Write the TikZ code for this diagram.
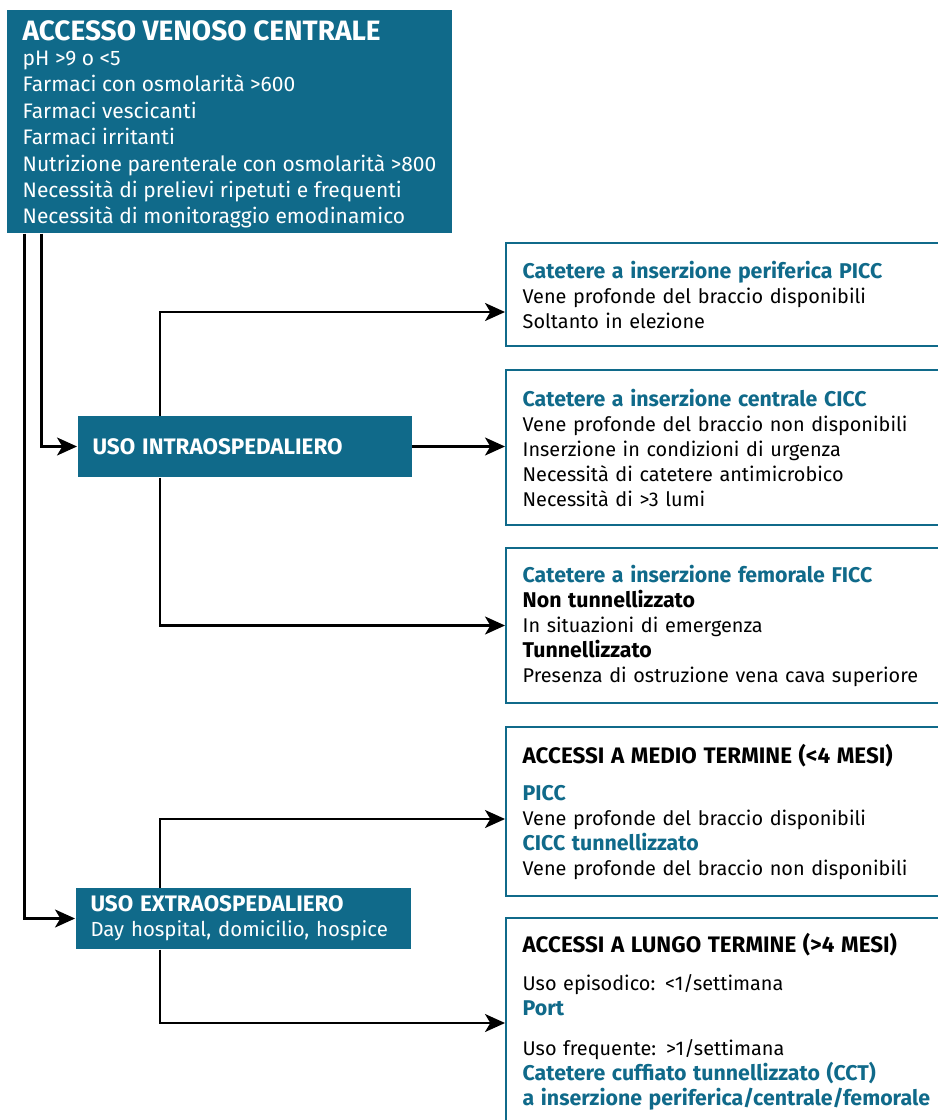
\documentclass[tikz,border=0pt]{standalone}
\usepackage{fontspec}
\setmainfont{Fira Sans}
\usetikzlibrary{arrows.meta,calc}
\definecolor{boxteal}{RGB}{16,106,138}
\tikzset{every picture/.style={line width=0.75pt}}
\newcommand{\cathead}[1]{{\color{boxteal}\fontsize{16}{18.75}\selectfont\bfseries #1}}
\newcommand{\capshead}[1]{{\fontsize{16.8}{18.75}\selectfont\bfseries #1}}

\begin{document}
\begin{tikzpicture}[x=0.75pt,y=0.75pt,yscale=-1,xscale=1,
  font=\fontsize{15.75}{19.8}\selectfont,
  fillbox/.style={fill=boxteal, text=white, inner xsep=11.25pt, align=left, anchor=west},
  optbox/.style={draw=boxteal, line width=1.5pt, fill=white, minimum width=345pt, text width=320pt, inner xsep=10pt, align=left, anchor=west, font=\fontsize{14.9}{18.75}\selectfont},
  flowarrow/.style={line width=1.7pt, -{Stealth[length=15pt,width=13.5pt,inset=4pt]}}]
\useasboundingbox (0,0) rectangle (938,1120);
\clip (0,0) rectangle (938,1120);

%Shape: Rectangle [central]
\node[fillbox, anchor=center, minimum width=333.75pt, minimum height=167.25pt] (central) at (229.5,121.5) {};
% Text Node
\node[text=white, align=left, inner sep=0pt, anchor=center] (centraltext) at ($(central.center)+(0,3)$)
  {{\fontsize{21}{22}\selectfont\bfseries ACCESSO VENOSO CENTRALE}\\[-1pt]
   pH >9 o <5\\
   Farmaci con osmolarità >600\\
   Farmaci vescicanti\\
   Farmaci irritanti\\
   Nutrizione parenterale con osmolarità >800\\
   Necessità di prelievi ripetuti e frequenti\\
   Necessità di monitoraggio emodinamico};

%Shape: Rectangle [intra]
\node[fillbox, text width=228pt, minimum height=45.75pt] (intra) at (77,446.5)
  {\capshead{USO INTRAOSPEDALIERO}};
%Shape: Rectangle [extra]
\node[fillbox, text width=228.75pt, minimum height=45.75pt, font=\fontsize{15.3}{18.75}\selectfont] (extra) at (75,918.5)
  {\capshead{USO EXTRAOSPEDALIERO}\\
   Day hospital, domicilio, hospice};

%Shape: Rectangle [picc]
\node[optbox, minimum height=77.25pt] (picc) at (505,294.5)
  {\cathead{Catetere a inserzione periferica PICC}\\
   Vene profonde del braccio disponibili\\
   Soltanto in elezione};
%Shape: Rectangle [cicc]
\node[optbox, minimum height=116.25pt] (cicc) at (505,447.5)
  {\cathead{Catetere a inserzione centrale CICC}\\
   Vene profonde del braccio non disponibili\\
   Inserzione in condizioni di urgenza\\
   Necessità di catetere antimicrobico\\
   Necessità di >3 lumi};
%Shape: Rectangle [ficc]
\node[optbox, minimum height=116.25pt] (ficc) at (505,625.5)
  {\cathead{Catetere a inserzione femorale FICC}\\
   {\fontsize{16}{18.75}\selectfont\bfseries Non tunnellizzato}\\
   In situazioni di emergenza\\
   {\fontsize{16}{18.75}\selectfont\bfseries Tunnellizzato}\\
   Presenza di ostruzione vena cava superiore};
%Shape: Rectangle [medio]
\node[optbox, minimum height=126.75pt] (medio) at (505,811.5)
  {\capshead{ACCESSI A MEDIO TERMINE (<4 MESI)}\\[9pt]
   \cathead{PICC}\\
   Vene profonde del braccio disponibili\\
   \cathead{CICC tunnellizzato}\\
   Vene profonde del braccio non disponibili};
%Shape: Rectangle [lungo]
\node[optbox, minimum height=155.25pt] (lungo) at (505,1021.5)
  {\capshead{ACCESSI A LUNGO TERMINE (>4 MESI)}\\[10pt]
   Uso episodico: <1/settimana\\
   \cathead{Port}\\[11pt]
   Uso frequente: >1/settimana\\
   \cathead{Catetere cuffiato tunnellizzato (CCT)}\\
   \cathead{a inserzione periferica/centrale/femorale}};

%Straight Lines [central -> intra, extra]
\draw[flowarrow] ($(central.south west)+(35,0)$) |- (intra.west);
\draw[flowarrow] ($(central.south west)+(18,0)$) |- (extra.west);
%Straight Lines [intra -> picc, cicc, ficc]
\draw[flowarrow] ($(intra.north west)+(83,0)$) |- ($(picc.west)+(0,17.5)$);
\draw[flowarrow] (intra.east) -- (intra.east -| cicc.west);
\draw[flowarrow] ($(intra.south west)+(83,0)$) |- (ficc.west);
%Straight Lines [extra -> medio, lungo]
\draw[flowarrow] ($(extra.north west)+(85,0)$) |- ($(medio.west)+(0,7.5)$);
\draw[flowarrow] ($(extra.south west)+(85,0)$) |- ($(lungo.west)+(0,1.5)$);

\end{tikzpicture}
\end{document}
